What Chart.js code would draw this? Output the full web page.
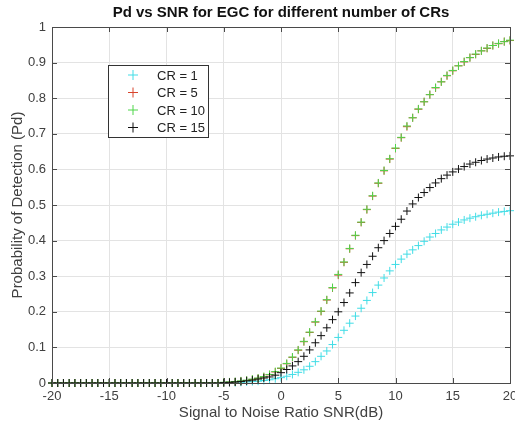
<!DOCTYPE html>
<html>
<head>
<meta charset="utf-8">
<script src="https://cdn.jsdelivr.net/npm/chart.js@4.4.0/dist/chart.umd.min.js"></script>
<style>
  html, body { margin: 0; padding: 0; background: #fff; }
  #wrap { width: 515px; height: 429px; }
</style>
</head>
<body>
<div id="wrap"><canvas id="myChart"></canvas></div>
<script>
// SNR values (dB)
var snr = [-20, -19.5, -19, -18.5, -18, -17.5, -17, -16.5, -16, -15.5,
  -15, -14.5, -14, -13.5, -13, -12.5, -12, -11.5, -11, -10.5,
  -10, -9.5, -9, -8.5, -8, -7.5, -7, -6.5, -6, -5.5,
  -5, -4.5, -4, -3.5, -3, -2.5, -2, -1.5, -1, -0.5,
  0, 0.5, 1, 1.5, 2, 2.5, 3, 3.5, 4, 4.5,
  5, 5.5, 6, 6.5, 7, 7.5, 8, 8.5, 9, 9.5,
  10, 10.5, 11, 11.5, 12, 12.5, 13, 13.5, 14, 14.5,
  15, 15.5, 16, 16.5, 17, 17.5, 18, 18.5, 19, 19.5, 20];

// Pd for each number of CRs
var pdCR1 = [0, 0, 0, 0, 0, 0, 0, 0, 0, 0,
  0, 0, 0, 0, 0, 0, 0, 0, 0, 0,
  0, 0, 0, 0, 0, 0, 0, 0, 0, 0,
  0, 0.001, 0.001, 0.002, 0.003, 0.004, 0.005, 0.007, 0.009, 0.012,
  0.015, 0.019, 0.024, 0.030, 0.037, 0.047, 0.060, 0.075, 0.090, 0.108,
  0.128, 0.148, 0.168, 0.188, 0.210, 0.232, 0.254, 0.275, 0.295, 0.315,
  0.333, 0.348, 0.362, 0.374, 0.386, 0.398, 0.410, 0.420, 0.430, 0.438,
  0.446, 0.452, 0.458, 0.463, 0.467, 0.471, 0.474, 0.477, 0.480, 0.482, 0.484];

var pdCR5 = [0, 0, 0, 0, 0, 0, 0, 0, 0, 0,
  0, 0, 0, 0, 0, 0, 0, 0, 0, 0,
  0, 0, 0, 0, 0, 0, 0, 0, 0, 0,
  0.001, 0.002, 0.003, 0.005, 0.007, 0.010, 0.013, 0.017, 0.023, 0.031,
  0.041, 0.054, 0.072, 0.092, 0.116, 0.142, 0.171, 0.201, 0.233, 0.267,
  0.303, 0.339, 0.377, 0.414, 0.451, 0.487, 0.525, 0.561, 0.596, 0.629,
  0.659, 0.689, 0.720, 0.745, 0.769, 0.790, 0.810, 0.829, 0.846, 0.863,
  0.877, 0.891, 0.902, 0.914, 0.923, 0.933, 0.940, 0.948, 0.953, 0.959, 0.962];

var pdCR10 = [0, 0, 0, 0, 0, 0, 0, 0, 0, 0,
  0, 0, 0, 0, 0, 0, 0, 0, 0, 0,
  0, 0, 0, 0, 0, 0, 0, 0, 0, 0,
  0.002, 0.003, 0.004, 0.006, 0.008, 0.011, 0.014, 0.018, 0.024, 0.032,
  0.042, 0.055, 0.073, 0.093, 0.117, 0.143, 0.172, 0.202, 0.234, 0.268,
  0.305, 0.340, 0.378, 0.415, 0.452, 0.488, 0.526, 0.562, 0.597, 0.630,
  0.660, 0.690, 0.722, 0.745, 0.770, 0.790, 0.810, 0.830, 0.846, 0.864,
  0.878, 0.891, 0.903, 0.914, 0.924, 0.933, 0.941, 0.948, 0.954, 0.959, 0.963];

var pdCR15 = [0, 0, 0, 0, 0, 0, 0, 0, 0, 0,
  0, 0, 0, 0, 0, 0, 0, 0, 0, 0,
  0, 0, 0, 0, 0, 0, 0, 0, 0, 0,
  0.001, 0.002, 0.003, 0.004, 0.006, 0.008, 0.011, 0.014, 0.017, 0.022,
  0.029, 0.038, 0.048, 0.060, 0.075, 0.093, 0.113, 0.133, 0.155, 0.178,
  0.200, 0.226, 0.253, 0.282, 0.310, 0.333, 0.356, 0.380, 0.400, 0.420,
  0.440, 0.460, 0.483, 0.503, 0.521, 0.535, 0.549, 0.562, 0.574, 0.584,
  0.593, 0.601, 0.608, 0.615, 0.620, 0.625, 0.629, 0.632, 0.635, 0.637, 0.638];

var seriesLabels = ['CR = 1', 'CR = 5', 'CR = 10', 'CR = 15'];
var seriesValues = [pdCR1, pdCR5, pdCR10, pdCR15];
var seriesColors = ['#40dde6', '#d8442c', '#4fd64a', '#111111'];

var fontFam = '"Liberation Sans", Arial, Helvetica, sans-serif';
var axisColor = '#4a4a4a';

function toPoints(vals) {
  return vals.map(function(v, i) { return { x: snr[i], y: v }; });
}

var datasets = seriesValues.map(function(vals, i) {
  return {
    label: seriesLabels[i],
    data: toPoints(vals),
    showLine: false,
    pointStyle: 'cross',
    pointRadius: 4,
    pointHoverRadius: 4,
    pointBorderWidth: 1,
    borderColor: seriesColors[i],
    backgroundColor: seriesColors[i],
    order: 4 - i, // later series on top, like matlab
    clip: false
  };
});

// box + inward ticks, matlab style
var boxPlugin = {
  id: 'boxPlugin',
  afterDatasetsDraw: function(chart) {
    var ctx = chart.ctx, a = chart.chartArea;
    var xs = chart.scales.x, ys = chart.scales.y;
    ctx.save();
    ctx.strokeStyle = axisColor;
    ctx.lineWidth = 1;
    ctx.beginPath();
    xs.ticks.forEach(function(t) {
      var px = Math.round(xs.getPixelForValue(t.value)) + 0.5;
      ctx.moveTo(px, a.bottom); ctx.lineTo(px, a.bottom - 5);
      ctx.moveTo(px, a.top); ctx.lineTo(px, a.top + 5);
    });
    ys.ticks.forEach(function(t) {
      var py = Math.round(ys.getPixelForValue(t.value)) + 0.5;
      ctx.moveTo(a.left, py); ctx.lineTo(a.left + 5, py);
      ctx.moveTo(a.right, py); ctx.lineTo(a.right - 5, py);
    });
    ctx.stroke();
    ctx.strokeRect(Math.round(a.left) + 0.5, Math.round(a.top) + 0.5,
      Math.round(a.right - a.left), Math.round(a.bottom - a.top));
    ctx.restore();
  }
};

// legend inside the axes
var legendPlugin = {
  id: 'legendPlugin',
  afterDraw: function(chart) {
    var ctx = chart.ctx, a = chart.chartArea;
    var x0 = a.left + 56, y0 = a.top + 38, w = 100, h = 72;
    ctx.save();
    ctx.fillStyle = '#fff';
    ctx.fillRect(x0, y0, w, h);
    ctx.strokeStyle = '#333';
    ctx.lineWidth = 1;
    ctx.strokeRect(x0 + 0.5, y0 + 0.5, w, h);
    ctx.font = '13px ' + fontFam;
    ctx.textBaseline = 'middle';
    chart.data.datasets.forEach(function(ds, i) {
      var cy = y0 + 10 + i * 17.5;
      var cx = x0 + 25;
      ctx.strokeStyle = ds.borderColor;
      ctx.beginPath();
      ctx.moveTo(cx - 5, cy); ctx.lineTo(cx + 5, cy);
      ctx.moveTo(cx, cy - 5); ctx.lineTo(cx, cy + 5);
      ctx.stroke();
      ctx.fillStyle = '#222';
      ctx.fillText(ds.label, x0 + 49, cy + 1);
    });
    ctx.restore();
  }
};

var ctx = document.getElementById('myChart').getContext('2d');

new Chart(ctx, {
  type: 'scatter',
  data: { datasets: datasets },
  options: {
    responsive: true,
    maintainAspectRatio: false,
    animation: false,
    layout: { padding: { left: 0, right: 5, top: 0, bottom: 0 } },
    plugins: {
      legend: { display: false },
      tooltip: { enabled: false },
      title: {
        display: true,
        text: 'Pd vs SNR for EGC for different number of CRs',
        fullSize: false,
        color: '#111',
        font: { family: fontFam, size: 15, weight: 'bold' },
        padding: { top: 4, bottom: 5 }
      }
    },
    scales: {
      x: {
        type: 'linear',
        min: -20,
        max: 20,
        afterFit: function(scale) {
          scale.height = 46;
          scale.paddingLeft = 0;
          scale.paddingRight = 0;
        },
        ticks: {
          stepSize: 5,
          color: '#404040',
          padding: 6,
          maxRotation: 0,
          font: { family: fontFam, size: 13 }
        },
        grid: { color: '#e3e3e3', drawTicks: false },
        border: { display: false },
        title: {
          display: true,
          text: 'Signal to Noise Ratio SNR(dB)',
          color: '#404040',
          font: { family: fontFam, size: 15 },
          padding: { top: 4, bottom: 7 }
        }
      },
      y: {
        type: 'linear',
        min: 0,
        max: 1,
        afterFit: function(scale) {
          scale.width = 52;
          scale.paddingTop = 0;
          scale.paddingBottom = 0;
        },
        ticks: {
          stepSize: 0.1,
          color: '#404040',
          padding: 6,
          font: { family: fontFam, size: 13 },
          callback: function(v) { return String(Number(v.toFixed(1))); }
        },
        grid: { color: '#e3e3e3', drawTicks: false },
        border: { display: false },
        title: {
          display: true,
          text: 'Probability of Detection (Pd)',
          color: '#404040',
          font: { family: fontFam, size: 15 },
          padding: { top: 9, bottom: 4 }
        }
      }
    }
  },
  plugins: [boxPlugin, legendPlugin]
});
</script>
</body>
</html>
